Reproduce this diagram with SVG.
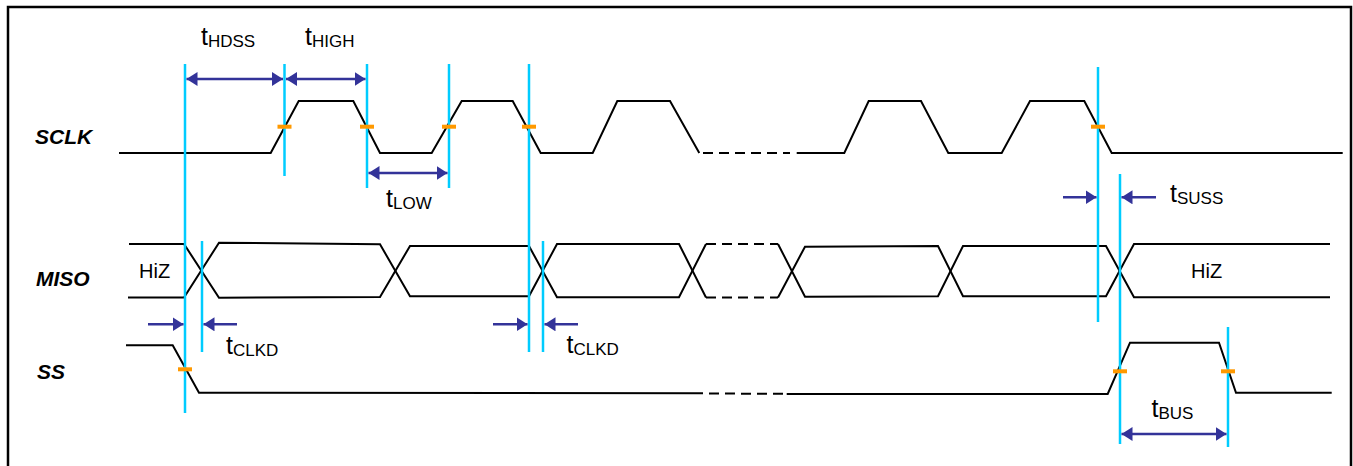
<svg xmlns="http://www.w3.org/2000/svg" width="1353" height="466" viewBox="0 0 1353 466">
<defs>
<marker id="ah" markerUnits="userSpaceOnUse" markerWidth="12" markerHeight="14" viewBox="0 0 12 14" refX="11" refY="7" orient="auto-start-reverse">
<path d="M0,0 L11,7 L0,14 Z" fill="#333399"/>
</marker>
<style>
.sig{fill:none;stroke:#000;stroke-width:2;stroke-linejoin:miter}
.dash{fill:none;stroke:#000;stroke-width:2;stroke-dasharray:10 6}
.cy{stroke:#00ccff;stroke-width:2.5}
.or{fill:#ff9900}
.ar{stroke:#333399;stroke-width:2.5;fill:none}
.lbl{font-family:"Liberation Sans",Arial,sans-serif;font-size:21px;font-weight:bold;font-style:italic;fill:#000}
.t{font-family:"Liberation Sans",Arial,sans-serif;font-size:25px;fill:#000}
.sub{font-size:17px}
.hiz{font-family:"Liberation Sans",Arial,sans-serif;font-size:20px;fill:#000}
</style>
</defs>
<rect x="8" y="7" width="1343" height="480" fill="#fff" stroke="#000" stroke-width="2.5"/>

<g id="labels">
<text class="lbl" x="35" y="144">SCLK</text>
<text class="lbl" x="36" y="286">MISO</text>
<text class="lbl" x="37" y="379">SS</text>
<text class="hiz" x="139" y="278">HiZ</text>
<text class="hiz" x="1191" y="278">HiZ</text>
</g>

<g id="sclk">
<path class="sig" d="M119,153 L270.7,153 L298.7,101 L353.3,101 L380,153 L431.7,153 L461.7,101 L512.7,101 L540.7,153 L592.7,153 L617.3,101 L670,101 L699.3,153"/>
<path class="dash" d="M703,153 L790,153"/>
<path class="sig" d="M796.7,153 L844.3,153 L868.7,101 L921,101 L948.3,153 L1001.7,153 L1030,101 L1084.3,101 L1111.7,153 L1342.7,153"/>
</g>

<g id="miso">
<path class="sig" d="M129,244 L184,244 L219,297.7 L380,297 L410,246 L529,246 L557,297.3 L679,297.3 L706,244"/>
<path class="sig" d="M128,297.5 L184,297.5 L219,242.7 L380,244.3 L410,296.3 L529,296.3 L557,244 L679,244 L706,297.5"/>
<path class="dash" d="M706,244 L778,244 M706,297.5 L778,297.5"/>
<path class="sig" d="M778,244 L805,296.7 L938,296.3 L963,246 L1106,246 L1134,297.3 L1330,297.3"/>
<path class="sig" d="M778,297.5 L805,246.7 L938,246 L963,296.3 L1106,296.3 L1134,244 L1330,244"/>
</g>

<g id="ss">
<path class="sig" d="M126,345.3 L172.7,345.3 L199,392.7 L703,393.3"/>
<path class="dash" d="M709,393.5 L785,393.8"/>
<path class="sig" d="M786.7,394 L1107.7,394 L1130,342.7 L1219,342.7 L1236,392.7 L1331.7,392.7"/>
</g>

<g id="markers">
<line class="cy" x1="185" y1="64" x2="185" y2="413"/>
<line class="cy" x1="284.5" y1="64" x2="284.5" y2="176"/>
<line class="cy" x1="367" y1="64" x2="367" y2="188"/>
<line class="cy" x1="449" y1="64" x2="449" y2="188"/>
<line class="cy" x1="529" y1="64" x2="529" y2="352"/>
<line class="cy" x1="202" y1="241" x2="202" y2="352"/>
<line class="cy" x1="543" y1="241" x2="543" y2="352"/>
<line class="cy" x1="1098" y1="67" x2="1098" y2="322"/>
<line class="cy" x1="1120" y1="174" x2="1120" y2="444"/>
<line class="cy" x1="1228" y1="327" x2="1228" y2="447"/>
<rect class="or" x="277.5" y="124.7" width="14" height="4"/>
<rect class="or" x="360" y="124.7" width="14" height="4"/>
<rect class="or" x="442" y="124.7" width="14" height="4"/>
<rect class="or" x="522" y="124.7" width="14" height="4"/>
<rect class="or" x="1091" y="124.7" width="14" height="4"/>
<rect class="or" x="178" y="367.3" width="14" height="4"/>
<rect class="or" x="1113" y="369.3" width="14" height="4"/>
<rect class="or" x="1221" y="369.3" width="14" height="4"/>
</g>

<g id="connectors">
<line class="ar" x1="186.5" y1="79" x2="283" y2="79" marker-start="url(#ah)" marker-end="url(#ah)"/>
<line class="ar" x1="286" y1="79" x2="365.5" y2="79" marker-start="url(#ah)" marker-end="url(#ah)"/>
<line class="ar" x1="368.5" y1="173" x2="447.5" y2="173" marker-start="url(#ah)" marker-end="url(#ah)"/>
<line class="ar" x1="148" y1="324.3" x2="183.5" y2="324.3" marker-end="url(#ah)"/>
<line class="ar" x1="237" y1="324.3" x2="203.5" y2="324.3" marker-end="url(#ah)"/>
<line class="ar" x1="493" y1="324.3" x2="527.5" y2="324.3" marker-end="url(#ah)"/>
<line class="ar" x1="578" y1="324.3" x2="544.5" y2="324.3" marker-end="url(#ah)"/>
<line class="ar" x1="1063" y1="197.3" x2="1096.5" y2="197.3" marker-end="url(#ah)"/>
<line class="ar" x1="1156" y1="197.3" x2="1121.5" y2="197.3" marker-end="url(#ah)"/>
<line class="ar" x1="1121.5" y1="434" x2="1226.5" y2="434" marker-start="url(#ah)" marker-end="url(#ah)"/>
</g>

<g id="timing-labels">
<text class="t" x="201" y="45">t<tspan class="sub" dy="1.5">HDSS</tspan></text>
<text class="t" x="305" y="45">t<tspan class="sub" dy="1.5">HIGH</tspan></text>
<text class="t" x="386" y="207">t<tspan class="sub" dy="1.5">LOW</tspan></text>
<text class="t" x="226" y="354">t<tspan class="sub" dy="1.5">CLKD</tspan></text>
<text class="t" x="566.5" y="353">t<tspan class="sub" dy="1.5">CLKD</tspan></text>
<text class="t" x="1170" y="202">t<tspan class="sub" dy="1.5">SUSS</tspan></text>
<text class="t" x="1151.5" y="417">t<tspan class="sub" dy="1.5">BUS</tspan></text>
</g>
</svg>
